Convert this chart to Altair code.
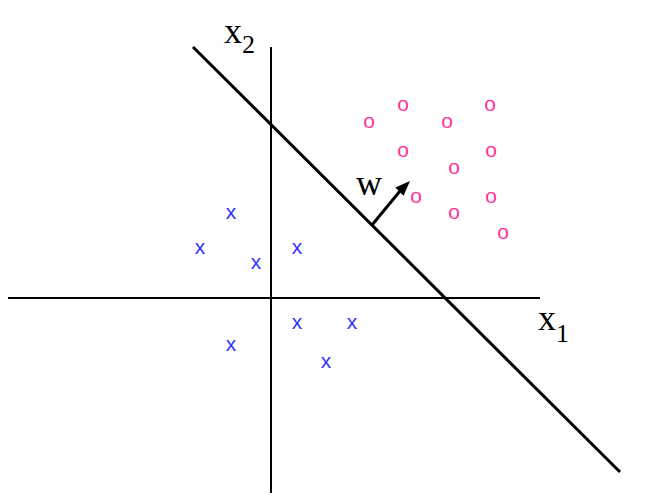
import altair as alt
import pandas as pd

# data coordinates: origin at the axis crossing, 1 unit = 1 px, y up
neg_x = [-40, -71, -15, 26, 26, 81, -40, 55]
neg_y = [85, 50, 35, 50, -25, -25, -47, -64]
pos_x = [132, 219, 98, 176, 132, 220, 183, 145, 220, 183, 232]
pos_y = [193, 193, 176, 176, 147, 147, 130, 101, 101, 85, 65]

# axis lines and separating line (start/end)
seg_x = [-263, 0, -78, 101]
seg_y = [0, 251, 251, 73]
seg_x2 = [269, 0, 349, 129]
seg_y2 = [0, -195, -174, 107]
seg_w = [2, 2, 3, 3]

head_x = [132.4]
head_y = [110.4]

main_text = ["x", "x", "w"]
main_x = [-47, 267, 85]
main_y = [255, -32, 103]

sub_text = ["2", "1"]
sub_x = [-29, 285]
sub_y = [245, -44]

xs = alt.Scale(domain=[-263, 374], nice=False, zero=False)
ys = alt.Scale(domain=[-195, 290], nice=False, zero=False)

segs = pd.DataFrame({"x": seg_x, "y": seg_y, "x2": seg_x2, "y2": seg_y2, "w": seg_w})
neg = pd.DataFrame({"x": neg_x, "y": neg_y, "t": ["x"] * len(neg_x)})
pos = pd.DataFrame({"x": pos_x, "y": pos_y, "t": ["o"] * len(pos_x)})
head = pd.DataFrame({"x": head_x, "y": head_y})
mains = pd.DataFrame({"x": main_x, "y": main_y, "t": main_text})
subs = pd.DataFrame({"x": sub_x, "y": sub_y, "t": sub_text})

X = lambda: alt.X("x:Q", scale=xs, axis=None)
Y = lambda: alt.Y("y:Q", scale=ys, axis=None)

rules = alt.Chart(segs).mark_rule(color="black").encode(
    x=X(), y=Y(), x2="x2:Q", y2="y2:Q",
    strokeWidth=alt.StrokeWidth("w:Q", scale=None, legend=None),
)

arrow = alt.Chart(head).mark_point(
    shape="M0,-1L-0.62,0.6L0.62,0.6Z", angle=45, filled=True, color="black",
    opacity=1, size=352, strokeWidth=0,
).encode(x=X(), y=Y())

negs = alt.Chart(neg).mark_text(
    font="Liberation Sans", fontSize=21, color="#3333ff", align="center",
    baseline="alphabetic", dy=6,
).encode(x=X(), y=Y(), text="t:N")

poss = alt.Chart(pos).mark_text(
    font="Liberation Sans", fontSize=21, color="#ff3399", align="center",
    baseline="alphabetic", dy=6,
).encode(x=X(), y=Y(), text="t:N")

main_labels = alt.Chart(mains).mark_text(
    font="Liberation Serif", fontSize=36, color="black", align="left",
    baseline="alphabetic",
).encode(x=X(), y=Y(), text="t:N")

sub_labels = alt.Chart(subs).mark_text(
    font="Liberation Serif", fontSize=26, color="black", align="left",
    baseline="alphabetic",
).encode(x=X(), y=Y(), text="t:N")

chart = alt.layer(rules, arrow, negs, poss, main_labels, sub_labels).properties(
    width=637, height=485, padding=0, background="white",
    autosize=alt.AutoSizeParams(type="none"),
).configure_view(stroke=None)

chart.save("out.html", embed_options={"renderer": "svg", "actions": False})
